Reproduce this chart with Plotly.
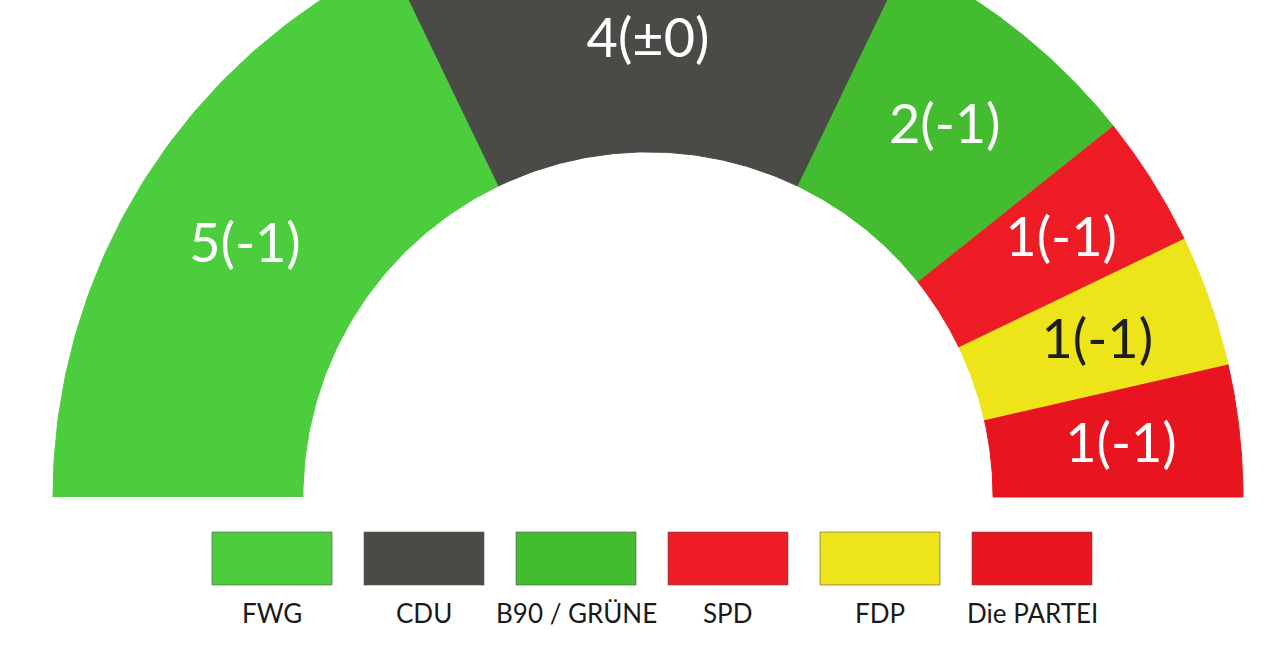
import numpy as np
import plotly.graph_objects as go

# Sitzverteilung
parteien = ['FWG', 'CDU', 'B90 / GRÜNE', 'SPD', 'FDP', 'Die PARTEI']
sitze = [5, 4, 2, 1, 1, 1]
veraenderung = ['-1', '±0', '-1', '-1', '-1', '-1']
farben = ['#4ccd3e', '#4a4a46', '#43bc30', '#ee1c25', '#eee41a', '#e8141f']
textfarben = ['white', 'white', 'white', 'white', '#1e1e1e', 'white']

R_AUSSEN = 1.0
R_INNEN = 0.58
label_r = [0.80, 0.77, 0.80, 0.82, 0.80, 0.80]
TEXT_DY = -5 / 595  # Text etwas tiefer setzen

fig = go.Figure()

gesamt = sum(sitze)
start = 180.0
for i, partei in enumerate(parteien):
    breite = 180.0 * sitze[i] / gesamt
    ende = start - breite
    t = np.radians(np.linspace(start, ende, 80))
    xs = np.concatenate([R_AUSSEN * np.cos(t), R_INNEN * np.cos(t[::-1])])
    ys = np.concatenate([R_AUSSEN * np.sin(t), R_INNEN * np.sin(t[::-1])])
    fig.add_trace(go.Scatter(x=xs, y=ys, fill='toself', mode='lines',
                             fillcolor=farben[i], line=dict(color=farben[i], width=1),
                             hoverinfo='skip', showlegend=False))
    mitte = np.radians((start + ende) / 2)
    fig.add_trace(go.Scatter(x=[label_r[i] * np.cos(mitte)],
                             y=[label_r[i] * np.sin(mitte) + TEXT_DY],
                             mode='text', text=[f'{sitze[i]}({veraenderung[i]})'],
                             textfont=dict(family='Lato', size=54, color=textfarben[i]),
                             hoverinfo='skip', showlegend=False))
    start = ende

# Legende unten
for i, partei in enumerate(parteien):
    x0 = (212 + 152 * i) / 1288
    x1 = x0 + 120 / 1288
    fig.add_shape(type='rect', xref='paper', yref='paper', x0=x0, x1=x1,
                  y0=1 - 585 / 648, y1=1 - 532 / 648,
                  fillcolor=farben[i], line=dict(color='#555555', width=0.6))
    fig.add_annotation(xref='paper', yref='paper', x=(x0 + x1) / 2, y=1 - 613 / 648,
                       text=partei, showarrow=False, xanchor='center', yanchor='middle',
                       font=dict(family='Lato', size=26, color='#1a1a1a'))

fig.update_xaxes(range=[-648 / 595, 640 / 595], visible=False)
fig.update_yaxes(range=[-151 / 595, 497 / 595], visible=False)
fig.update_layout(width=1288, height=648, margin=dict(l=0, r=0, t=0, b=0),
                  plot_bgcolor='white', paper_bgcolor='white')

fig.write_html("out.html", config={'displayModeBar': False},
               post_script="document.body.style.margin='0';document.body.style.overflow='hidden';")
